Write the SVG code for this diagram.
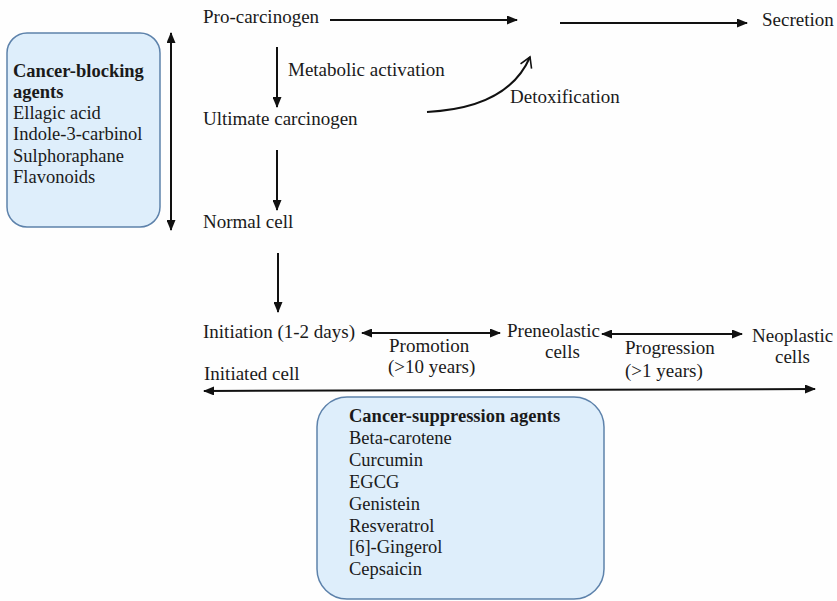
<svg xmlns="http://www.w3.org/2000/svg" width="837" height="601" viewBox="0 0 837 601">
  <defs>
    <marker id="ah" markerUnits="userSpaceOnUse" markerWidth="11" markerHeight="9" refX="10" refY="4.5" orient="auto-start-reverse">
      <path d="M0,0 L11,4.5 L0,9 z" fill="#111"/>
    </marker>
    <marker id="open" markerUnits="userSpaceOnUse" markerWidth="14" markerHeight="14" refX="11" refY="7" orient="auto">
      <path d="M1,1 L11,7 L1,13" fill="none" stroke="#111" stroke-width="1.6"/>
    </marker>
  </defs>
  <style>
    text { font-family: "Liberation Serif", "Times New Roman", serif; fill: #1a1a1a; font-size: 19px; }
    .box text { font-size: 18.5px; }
    .b { font-weight: bold; }
    .panel { fill: #deeefb; stroke: #5d82ab; stroke-width: 1.5; }
    .c line, .c path { stroke: #111; stroke-width: 2; fill: none; }
  </style>
  <rect width="837" height="601" fill="#fefefe"/>

  <g id="blocking" class="box">
    <rect class="panel" x="7" y="33" width="153" height="194" rx="20"/>
    <text class="b" x="13" y="77">Cancer-blocking</text>
    <text class="b" x="13" y="98">agents</text>
    <text x="13" y="119">Ellagic acid</text>
    <text x="13" y="140">Indole-3-carbinol</text>
    <text x="13" y="162">Sulphoraphane</text>
    <text x="13" y="183">Flavonoids</text>
  </g>

  <g id="suppression" class="box">
    <rect class="panel" x="317" y="397" width="287" height="202" rx="30"/>
    <text class="b" x="349" y="422">Cancer-suppression agents</text>
    <text x="349" y="444">Beta-carotene</text>
    <text x="349" y="466">Curcumin</text>
    <text x="349" y="488">EGCG</text>
    <text x="349" y="510">Genistein</text>
    <text x="349" y="532">Resveratrol</text>
    <text x="349" y="553">[6]-Gingerol</text>
    <text x="349" y="575">Cepsaicin</text>
  </g>

  <g id="procarcinogen"><text x="203" y="23">Pro-carcinogen</text></g>
  <g id="secretion"><text x="762" y="26">Secretion</text></g>
  <g id="ultimate"><text x="203" y="125">Ultimate carcinogen</text></g>
  <g id="normal"><text x="203" y="228">Normal cell</text></g>
  <g id="initiation"><text x="203" y="338">Initiation (1-2 days)</text></g>
  <g id="initiated"><text x="204" y="380">Initiated cell</text></g>
  <g id="preneoplastic">
    <text x="507" y="337">Preneolastic</text>
    <text x="545" y="358">cells</text>
  </g>
  <g id="neoplastic">
    <text x="752" y="342">Neoplastic</text>
    <text x="775" y="363">cells</text>
  </g>

  <g id="connectors" class="c">
    <line x1="330" y1="20" x2="517" y2="20" marker-end="url(#ah)"/>
    <line x1="560" y1="23" x2="747" y2="23" marker-end="url(#ah)"/>
    <line x1="277" y1="47" x2="277" y2="107" marker-end="url(#ah)"/>
    <line x1="277" y1="150" x2="277" y2="210" marker-end="url(#ah)"/>
    <line x1="278" y1="253" x2="278" y2="312" marker-end="url(#ah)"/>
    <line x1="171" y1="33" x2="171" y2="230" marker-start="url(#ah)" marker-end="url(#ah)"/>
    <path d="M427,112 Q508,108 530,57" marker-end="url(#open)"/>
    <line x1="362" y1="333" x2="500" y2="333" marker-start="url(#ah)" marker-end="url(#ah)"/>
    <line x1="602" y1="334" x2="742" y2="334" marker-start="url(#ah)" marker-end="url(#ah)"/>
    <line x1="204" y1="391" x2="815" y2="389" marker-start="url(#ah)" marker-end="url(#ah)"/>
  </g>

  <g id="labels">
    <text x="288" y="76">Metabolic activation</text>
    <text x="510" y="103">Detoxification</text>
    <text x="389" y="352">Promotion</text>
    <text x="388" y="373">(&gt;10 years)</text>
    <text x="625" y="354">Progression</text>
    <text x="625" y="377">(&gt;1 years)</text>
  </g>
</svg>
